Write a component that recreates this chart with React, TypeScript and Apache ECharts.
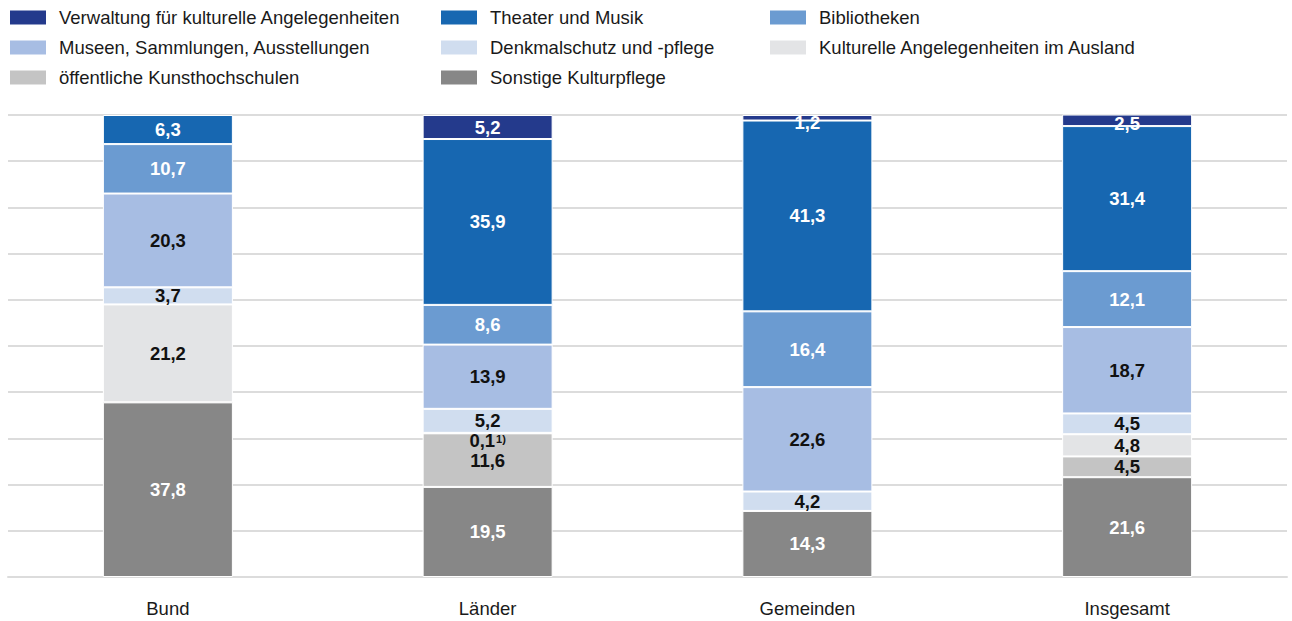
import React, { useEffect, useRef } from "react";
import * as echarts from "echarts";

const categories = ["Bund", "Länder", "Gemeinden", "Insgesamt"];

const seriesNames = [
  "Sonstige Kulturpflege",
  "öffentliche Kunsthochschulen",
  "Kulturelle Angelegenheiten im Ausland",
  "Denkmalschutz und -pflege",
  "Museen, Sammlungen, Ausstellungen",
  "Bibliotheken",
  "Theater und Musik",
  "Verwaltung für kulturelle Angelegenheiten",
];

const sonstige = [37.8, 19.5, 14.3, 21.6];
const kunsthochschulen = [null, 11.6, null, 4.5];
const ausland = [21.2, 0.1, null, 4.8];
const denkmal = [3.7, 5.2, 4.2, 4.5];
const museen = [20.3, 13.9, 22.6, 18.7];
const bibliotheken = [10.7, 8.6, 16.4, 12.1];
const theater = [6.3, 35.9, 41.3, 31.4];
const verwaltung = [null, 5.2, 1.2, 2.5];

const seriesValues = [sonstige, kunsthochschulen, ausland, denkmal, museen, bibliotheken, theater, verwaltung];

const colors = ["#878787", "#c4c4c4", "#e3e4e6", "#d0ddef", "#a7bde3", "#6b9bd1", "#1767b1", "#243a8c"];
const labelColors = ["#ffffff", "#111111", "#111111", "#111111", "#111111", "#ffffff", "#ffffff", "#ffffff"];

const legendCols = [
  ["Verwaltung für kulturelle Angelegenheiten", "Museen, Sammlungen, Ausstellungen", "öffentliche Kunsthochschulen"],
  ["Theater und Musik", "Denkmalschutz und -pflege", "Sonstige Kulturpflege"],
  ["Bibliotheken", "Kulturelle Angelegenheiten im Ausland"],
];
const legendLefts = [3, 434, 763];

const FONT = "'Liberation Sans', Arial, sans-serif";

// label nudges (series index, category index) -> [dx, dy]
const labelOffsets: Record<string, number[]> = {
  "7-2": [0, 5],
  "7-3": [0, 3],
  "2-1": [0, 7],
};

export default function App() {
  const ref = useRef<HTMLDivElement>(null);
  useEffect(() => {
    if (!ref.current) return;
    const chart = echarts.init(ref.current, null, { renderer: "svg" });
    const fmt = (v: number) => v.toFixed(1).replace(".", ",");
    const series = seriesNames.map((name, si) => ({
      name,
      type: "bar",
      stack: "total",
      barWidth: 130,
      itemStyle: { color: colors[si], borderColor: "#ffffff", borderWidth: 1 },
      label: {
        show: true,
        position: "inside",
        fontFamily: FONT,
        fontSize: 18.5,
        fontWeight: "bold",
        color: labelColors[si],
        formatter: (p: any) => fmt(p.value),
      },
      data: seriesValues[si].map((v, ci) => {
        if (v === null) return null;
        const off = labelOffsets[si + "-" + ci];
        if (si === 2 && ci === 1) {
          return {
            value: v,
            label: {
              offset: off,
              lineHeight: 14,
              formatter: (p: any) => "{n|" + fmt(p.value) + "}{s|1)}",
              rich: {
                n: { fontSize: 18.5, fontWeight: "bold", color: "#111111", fontFamily: FONT, lineHeight: 14 },
                s: { fontSize: 11, fontWeight: "bold", color: "#111111", fontFamily: FONT, verticalAlign: "top", lineHeight: 14, padding: [0, 0, 7, 1] },
              },
            },
          };
        }
        if (off) return { value: v, label: { offset: off } };
        return v;
      }),
    }));
    chart.setOption({
      animation: false,
      color: colors,
      legend: legendCols.map((col, i) => ({
        orient: "vertical",
        left: legendLefts[i],
        top: 3,
        itemWidth: 38,
        itemHeight: 16,
        itemGap: 11,
        icon: "rect",
        selectedMode: false,
        data: col,
        textStyle: { fontFamily: FONT, fontSize: 18.5, color: "#1a1a1a", padding: [0, 0, 0, 7], lineHeight: 18 },
      })),
      grid: { left: 8, right: 5, top: 115, bottom: 44, containLabel: false },
      xAxis: {
        type: "category",
        data: categories,
        axisLine: { show: true, lineStyle: { color: "#dcdcdc", width: 2 } },
        axisTick: { show: false },
        axisLabel: { fontFamily: FONT, fontSize: 18.5, color: "#1a1a1a", margin: 22 },
      },
      yAxis: {
        type: "value",
        min: 0,
        max: 100,
        interval: 10,
        axisLabel: { show: false },
        axisLine: { show: false },
        axisTick: { show: false },
        splitLine: { lineStyle: { color: "#dcdcdc", width: 2 } },
      },
      series,
    });
    return () => chart.dispose();
  }, []);
  return <div ref={ref} style={{ position: "fixed", left: 0, top: 0, width: 1292, height: 621, background: "#ffffff" }} />;
}
